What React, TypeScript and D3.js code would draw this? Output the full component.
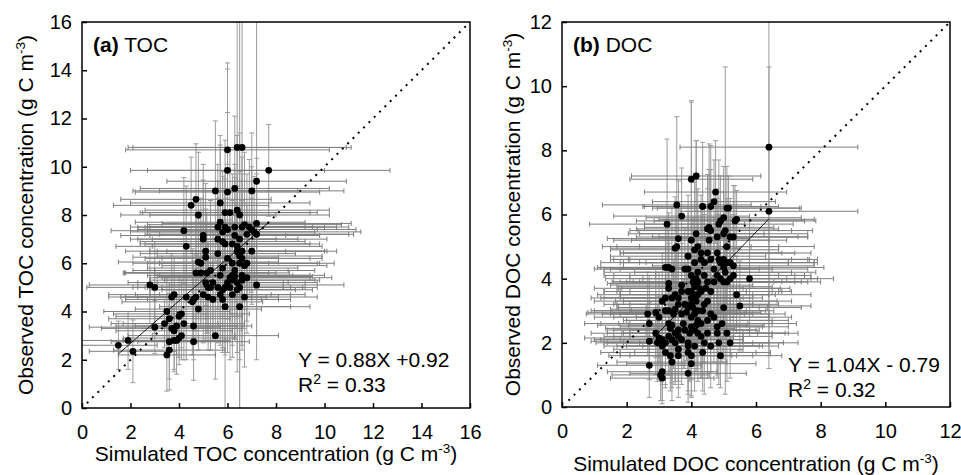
import React, { useRef, useEffect } from "react";
import { select, scaleLinear, axisBottom, axisLeft, line } from "d3";

// [simulated, observed, simulated SD, observed SD]
const tocPoints = [
  [1.5, 2.6, 1.6, 1.0], [1.9, 2.8, 2.0, 1.2], [2.1, 2.35, 1.8, 1.3], [2.8, 5.1, 2.5, 1.6],
  [3.0, 5.0, 2.8, 1.9], [3.0, 3.35, 2.7, 1.1], [3.4, 3.5, 2.2, 1.0], [3.5, 4.0, 2.6, 1.4],
  [3.5, 2.2, 2.0, 1.5], [3.6, 2.4, 2.3, 1.2], [3.6, 2.75, 2.4, 2.0], [3.6, 3.7, 2.5, 1.3],
  [3.7, 3.3, 2.9, 0.9], [3.7, 4.6, 2.6, 1.8], [3.8, 4.7, 2.7, 1.5], [3.8, 3.2, 2.4, 1.6],
  [3.9, 2.8, 2.2, 1.4], [3.9, 3.4, 2.5, 1.2], [4.0, 3.8, 2.6, 1.7], [4.0, 2.9, 2.3, 1.1],
  [4.1, 3.9, 2.8, 1.4], [4.1, 3.0, 2.2, 1.0], [3.8, 2.8, 2.1, 1.3], [4.2, 7.35, 3.0, 2.2],
  [4.3, 6.7, 2.9, 2.5], [4.3, 4.6, 2.7, 2.6], [4.2, 3.5, 2.5, 1.5], [4.5, 8.4, 3.2, 2.0],
  [4.6, 4.5, 2.8, 1.6], [4.55, 4.4, 2.9, 2.2], [4.6, 3.4, 2.4, 1.4], [4.6, 2.75, 2.3, 1.6],
  [4.7, 8.65, 3.1, 2.3], [4.7, 4.6, 2.9, 1.9], [4.7, 5.6, 3.0, 2.4], [4.8, 8.0, 3.2, 2.6],
  [4.8, 6.05, 3.3, 1.8], [4.8, 4.1, 2.6, 1.7], [4.9, 5.6, 3.1, 2.1], [4.9, 6.0, 2.8, 2.7],
  [5.0, 7.15, 3.4, 2.3], [5.0, 7.0, 3.0, 3.1], [5.0, 4.7, 2.8, 2.0], [5.1, 5.2, 3.2, 2.4],
  [5.1, 6.5, 3.3, 2.8], [5.1, 6.25, 3.0, 2.0], [5.15, 5.6, 3.4, 2.5], [5.2, 5.0, 3.1, 1.9],
  [5.2, 4.6, 2.9, 2.2], [5.3, 5.0, 3.0, 2.6], [5.3, 5.7, 3.2, 2.9], [5.4, 4.5, 2.7, 1.7],
  [5.5, 9.0, 3.4, 2.9], [5.5, 3.0, 2.6, 1.8], [5.6, 7.5, 3.6, 2.6], [5.6, 7.0, 3.3, 2.4],
  [5.6, 5.0, 3.0, 2.3], [5.7, 8.5, 3.7, 2.8], [5.7, 7.7, 3.5, 3.2], [5.7, 4.7, 2.9, 2.1],
  [5.8, 7.3, 3.8, 2.5], [5.8, 6.9, 3.4, 2.7], [5.8, 5.8, 3.1, 3.3], [5.8, 4.9, 3.0, 2.4],
  [5.8, 4.5, 2.8, 2.2], [5.9, 8.1, 3.5, 3.0], [5.9, 7.5, 3.6, 2.3], [5.9, 5.0, 3.2, 2.8],
  [5.9, 4.2, 2.7, 4.3], [6.0, 10.7, 4.2, 3.6], [6.0, 9.85, 4.0, 4.2], [6.0, 8.95, 3.8, 3.3],
  [6.0, 7.4, 3.7, 2.7], [6.0, 5.2, 3.2, 2.9], [6.1, 8.1, 3.6, 2.6], [6.1, 5.4, 3.3, 2.4],
  [6.1, 5.0, 3.1, 3.0], [6.2, 5.5, 3.2, 2.5], [6.2, 5.3, 3.4, 2.7], [6.2, 4.7, 3.0, 2.6],
  [6.3, 9.1, 3.9, 3.0], [6.3, 7.5, 3.7, 2.6], [6.3, 7.15, 3.5, 2.4], [6.3, 5.7, 3.3, 2.8],
  [6.3, 5.45, 3.2, 2.6], [6.4, 10.8, 4.5, 5.2], [6.4, 8.2, 3.8, 3.1], [6.4, 6.7, 3.5, 3.0],
  [6.4, 6.5, 3.6, 2.7], [6.4, 5.2, 3.3, 2.9], [6.4, 4.9, 3.1, 3.4], [6.5, 8.0, 3.7, 3.4],
  [6.5, 7.0, 3.6, 2.8], [6.5, 6.3, 3.4, 3.1], [6.5, 6.0, 3.3, 10.5], [6.5, 5.0, 3.2, 3.0],
  [6.5, 4.2, 2.9, 4.2], [6.6, 10.8, 4.5, 5.5], [6.6, 7.5, 3.9, 2.9], [6.6, 6.5, 3.5, 3.2],
  [6.6, 6.2, 3.3, 2.8], [6.6, 5.5, 3.4, 3.1], [6.6, 5.3, 3.2, 2.7], [6.7, 7.6, 4.0, 3.0],
  [6.7, 5.9, 3.4, 2.6], [6.7, 4.6, 3.0, 2.9], [6.8, 7.2, 4.2, 2.5], [6.8, 6.0, 3.6, 2.4],
  [6.9, 7.5, 4.1, 2.8], [7.0, 7.4, 4.3, 2.6], [7.0, 9.0, 3.8, 2.4], [7.0, 6.5, 3.5, 2.2],
  [7.1, 7.3, 4.4, 2.3], [7.2, 7.2, 4.0, 2.5], [7.2, 9.4, 3.7, 7.4], [7.2, 7.65, 3.9, 2.7],
  [7.2, 5.1, 3.6, 2.1], [7.7, 9.85, 5.0, 1.9], [6.2, 6.0, 3.5, 2.6], [5.4, 5.2, 3.1, 2.2],
  [5.7, 5.5, 3.0, 2.5], [6.0, 6.2, 3.4, 2.5], [6.2, 6.8, 3.6, 2.9], [5.6, 6.4, 3.2, 2.3],
  [6.8, 5.4, 3.5, 2.3], [5.9, 6.8, 3.5, 2.7],
];

const docPoints = [
  [6.4, 8.1, 2.75, 6.9], [6.4, 6.1, 2.75, 4.5], [4.0, 7.1, 1.9, 2.4], [4.15, 7.2, 2.0, 1.1],
  [4.75, 6.7, 2.2, 1.6], [4.7, 6.4, 1.9, 1.3], [4.6, 6.25, 2.1, 1.9], [4.35, 6.25, 1.8, 2.0],
  [3.55, 6.3, 2.3, 2.75], [3.7, 5.95, 2.1, 1.5], [3.25, 5.7, 2.4, 2.65], [3.6, 5.25, 2.2, 1.8],
  [3.5, 4.95, 2.0, 1.6], [3.55, 5.0, 2.3, 1.4], [4.0, 5.2, 2.4, 4.35], [4.15, 5.4, 2.1, 2.9],
  [4.5, 5.55, 2.2, 1.7], [4.55, 5.6, 2.0, 2.6], [4.8, 5.3, 2.5, 1.5], [4.85, 5.7, 2.3, 2.0],
  [4.9, 5.8, 2.6, 1.4], [5.0, 5.9, 2.4, 1.6], [5.05, 5.5, 2.7, 5.1], [5.1, 6.2, 2.3, 1.3],
  [5.15, 6.2, 2.2, 1.0], [5.35, 5.8, 2.5, 1.1], [5.4, 5.85, 2.4, 0.9], [5.0, 5.4, 2.6, 1.3],
  [5.1, 5.0, 2.7, 1.5], [5.2, 5.3, 2.4, 1.2], [5.3, 5.3, 2.3, 1.6], [4.8, 4.8, 2.9, 1.7],
  [4.85, 4.6, 2.8, 1.4], [4.9, 4.5, 3.0, 1.9], [5.0, 4.6, 2.9, 1.5], [5.1, 4.5, 2.7, 1.3],
  [5.2, 4.5, 2.6, 1.8], [5.3, 4.4, 2.5, 1.6], [5.05, 4.2, 2.8, 1.4], [5.0, 3.9, 2.6, 2.0],
  [5.1, 3.9, 2.9, 1.7], [5.2, 4.0, 2.7, 1.5], [5.3, 4.1, 2.4, 1.9], [5.4, 3.5, 2.3, 1.2],
  [5.8, 4.0, 2.6, 1.8], [5.5, 3.15, 2.2, 1.4], [5.0, 3.1, 2.4, 1.6], [4.95, 2.6, 2.3, 1.2],
  [5.1, 2.3, 2.2, 1.5], [5.2, 2.0, 2.1, 1.1], [4.85, 2.0, 2.0, 1.3], [4.9, 1.6, 1.9, 1.0],
  [4.8, 2.3, 2.2, 1.4], [3.2, 4.35, 2.0, 1.5], [3.3, 4.35, 2.2, 1.7], [3.3, 3.85, 1.9, 1.4],
  [3.4, 4.3, 2.4, 1.9], [3.7, 3.8, 2.2, 1.6], [3.7, 3.6, 2.0, 1.5], [3.8, 4.3, 2.3, 1.3],
  [3.9, 4.3, 2.6, 1.8], [4.0, 4.1, 2.7, 1.6], [4.05, 3.9, 2.5, 2.0], [4.1, 3.75, 2.4, 1.7],
  [4.15, 4.0, 2.8, 1.5], [4.2, 3.9, 2.6, 1.8], [4.25, 3.7, 2.5, 1.4], [4.1, 3.5, 2.3, 1.9],
  [4.0, 3.4, 2.2, 1.6], [4.2, 3.5, 2.4, 1.7], [4.3, 3.6, 2.5, 1.5], [4.4, 3.2, 2.3, 1.8],
  [4.35, 3.0, 2.2, 1.6], [4.2, 3.0, 2.1, 1.4], [4.1, 2.9, 2.3, 1.7], [4.0, 2.8, 2.4, 1.5],
  [3.9, 3.1, 2.2, 1.9], [3.8, 3.2, 2.1, 1.3], [3.6, 3.2, 2.3, 1.6], [3.5, 3.05, 2.0, 1.4],
  [3.45, 2.9, 2.2, 1.7], [3.3, 3.0, 2.4, 1.5], [3.3, 2.6, 2.1, 1.6], [3.35, 2.45, 2.0, 1.3],
  [3.4, 2.55, 2.3, 1.8], [3.5, 2.3, 2.1, 1.5], [3.6, 2.4, 2.2, 1.2], [3.6, 2.2, 2.0, 1.6],
  [3.7, 2.1, 1.9, 1.4], [3.5, 2.0, 2.1, 1.3], [3.4, 2.1, 2.2, 1.5], [3.3, 2.2, 2.0, 1.2],
  [3.2, 2.0, 1.9, 1.4], [3.1, 2.1, 2.1, 1.1], [3.0, 2.15, 2.3, 1.3], [3.1, 1.9, 1.8, 1.2],
  [3.2, 1.7, 2.0, 1.0], [3.35, 1.6, 1.9, 1.1], [3.4, 1.4, 1.7, 1.2], [3.6, 1.8, 2.0, 1.0],
  [3.6, 1.6, 1.8, 1.3], [3.9, 1.7, 2.1, 1.2], [3.9, 1.9, 2.2, 1.0], [4.0, 1.6, 1.9, 1.3],
  [4.0, 1.35, 2.0, 1.0], [4.1, 1.9, 2.1, 1.4], [4.2, 2.3, 2.3, 1.5], [4.3, 2.2, 2.2, 1.3],
  [4.4, 2.0, 2.0, 1.6], [4.35, 1.7, 2.1, 1.2], [4.5, 2.3, 2.4, 1.4], [4.5, 2.7, 2.5, 1.6],
  [4.6, 2.9, 2.3, 1.8], [4.5, 3.3, 2.6, 1.5], [4.6, 3.6, 2.5, 1.7], [4.7, 3.9, 2.7, 1.6],
  [4.4, 4.1, 2.8, 1.9], [4.4, 4.5, 2.6, 1.7], [4.5, 4.8, 2.7, 2.0], [4.3, 4.8, 2.5, 1.8],
  [4.1, 4.5, 2.9, 1.6], [3.9, 4.7, 2.4, 1.9], [2.65, 2.9, 1.9, 1.3], [2.7, 2.6, 2.0, 1.5],
  [2.7, 2.05, 1.8, 1.2], [2.7, 1.3, 1.6, 1.0], [2.9, 2.95, 2.1, 1.4], [3.05, 1.0, 1.5, 0.8],
  [3.1, 1.1, 1.7, 1.0], [3.1, 0.9, 1.6, 0.7], [3.9, 1.05, 1.8, 0.9], [3.9, 2.0, 2.0, 1.6],
  [4.6, 1.9, 2.1, 1.3], [4.8, 2.5, 2.2, 1.5], [4.7, 2.8, 2.4, 1.4], [4.3, 2.6, 2.2, 1.7],
  [4.2, 2.7, 2.3, 1.5], [4.15, 2.55, 2.1, 1.4], [4.0, 2.5, 2.2, 1.6], [4.1, 2.4, 2.0, 1.3],
  [3.95, 2.3, 2.1, 1.5], [3.8, 2.4, 2.2, 1.2], [3.75, 2.6, 2.0, 1.4], [3.2, 3.4, 2.3, 1.6],
  [3.1, 3.3, 2.1, 1.5], [3.2, 3.0, 2.2, 1.3], [3.0, 2.8, 2.0, 1.4], [3.5, 3.5, 2.4, 1.7],
  [3.6, 3.4, 2.3, 1.5], [3.9, 3.6, 2.6, 1.8], [4.0, 3.6, 2.7, 1.6], [4.2, 4.2, 2.9, 1.9],
  [4.3, 4.6, 2.8, 1.7], [4.6, 4.6, 3.0, 1.8], [4.7, 4.3, 2.9, 1.6], [4.8, 4.1, 2.7, 1.9],
  [4.9, 4.0, 2.8, 1.7], [5.0, 4.35, 3.1, 1.8], [4.55, 5.2, 2.4, 2.2], [4.6, 5.5, 2.5, 1.9],
  [4.1, 4.9, 2.6, 2.1], [4.2, 5.0, 2.5, 1.8], [3.4, 3.4, 2.2, 1.6], [3.3, 3.7, 2.3, 1.4],
  [2.9, 2.3, 2.0, 1.3], [2.95, 2.0, 1.9, 1.2], [4.45, 3.7, 2.6, 1.7], [4.5, 3.9, 2.7, 1.5],
  [4.0, 3.2, 2.4, 1.6], [4.05, 3.1, 2.3, 1.8], [4.15, 3.3, 2.5, 1.4], [3.7, 2.9, 2.2, 1.6],
  [3.85, 2.95, 2.3, 1.5],
];

const tocTicks = [0, 2, 4, 6, 8, 10, 12, 14, 16];
const docTicks = [0, 2, 4, 6, 8, 10, 12];

// slope, intercept; fitted range on the simulated axis
const tocFit = [0.88, 0.92];
const tocFitRange = [1.5, 7.7];
const docFit = [1.04, -0.79];
const docFitRange = [2.7, 6.4];

const FONT = "'Liberation Sans', Arial, sans-serif";

function Panel({ id, points, ticks, fit, fitRange, left, width, top, height, letter, name, eq, r2, xTitleY, yTitleX, eqX, eqY }) {
  const axRef = useRef(null);
  const maxV = ticks[ticks.length - 1];
  const x = scaleLinear().domain([0, maxV]).range([left, left + width]);
  const y = scaleLinear().domain([0, maxV]).range([top + height, top]);

  useEffect(() => {
    const g = select(axRef.current);
    g.select(".xaxis")
      .attr("transform", `translate(0,${top + height})`)
      .call(axisBottom(x).tickValues(ticks).tickSize(-5).tickPadding(17).tickFormat((d) => String(d)));
    g.select(".yaxis")
      .attr("transform", `translate(${left},0)`)
      .call(axisLeft(y).tickValues(ticks).tickSize(-5).tickPadding(10).tickFormat((d) => String(d)));
    g.selectAll(".domain").remove();
    g.selectAll(".tick line").attr("stroke", "#000").attr("stroke-width", 1.5);
    g.selectAll("text").attr("font-size", 20).attr("font-family", FONT).attr("fill", "#000");
  }, [points]);

  const fitLine = line()
    .x((d) => x(d))
    .y((d) => y(fit[0] * d + fit[1]));

  const cap = 2.5;

  return (
    <g>
      <defs>
        <clipPath id={"clip-" + id}>
          <rect x={left} y={top} width={width} height={height} />
        </clipPath>
      </defs>
      <g clipPath={`url(#clip-${id})`}>
        <g stroke="#9c9c9c" strokeWidth={1}>
          {points.map((p, i) => (
            <g key={"v" + i}>
              <line x1={x(p[0])} x2={x(p[0])} y1={y(p[1] - p[3])} y2={y(p[1] + p[3])} />
              <line x1={x(p[0]) - cap} x2={x(p[0]) + cap} y1={y(p[1] - p[3])} y2={y(p[1] - p[3])} />
              <line x1={x(p[0]) - cap} x2={x(p[0]) + cap} y1={y(p[1] + p[3])} y2={y(p[1] + p[3])} />
            </g>
          ))}
        </g>
        <g stroke="#7e7e7e" strokeWidth={1}>
          {points.map((p, i) => (
            <g key={"h" + i}>
              <line x1={x(p[0] - p[2])} x2={x(p[0] + p[2])} y1={y(p[1])} y2={y(p[1])} />
              <line x1={x(p[0] - p[2])} x2={x(p[0] - p[2])} y1={y(p[1]) - cap} y2={y(p[1]) + cap} />
              <line x1={x(p[0] + p[2])} x2={x(p[0] + p[2])} y1={y(p[1]) - cap} y2={y(p[1]) + cap} />
            </g>
          ))}
        </g>
        <line x1={x(0.2)} y1={y(0.2)} x2={x(maxV)} y2={y(maxV)} stroke="#000" strokeWidth={2} strokeDasharray="2 5.5" />
        {points.map((p, i) => (
          <circle key={"c" + i} cx={x(p[0])} cy={y(p[1])} r={3.4} fill="#000" />
        ))}
        <path d={fitLine(fitRange)} stroke="#000" strokeWidth={0.9} fill="none" />
      </g>
      <rect x={left} y={top} width={width} height={height} fill="none" stroke="#000" strokeWidth={1.5} />
      <g ref={axRef}>
        <g className="xaxis" />
        <g className="yaxis" />
      </g>
      <g fontFamily={FONT} fill="#000">
        <text x={left + 11} y={top + 30} fontSize={21}>
          <tspan fontWeight="bold">{letter}</tspan> {name}
        </text>
        <text x={eqX} y={eqY} fontSize={21}>{eq}</text>
        <text x={eqX} y={eqY + 25} fontSize={21}>
          R<tspan dy={-8} fontSize={14}>2</tspan><tspan dy={8}> = {r2}</tspan>
        </text>
        <text x={left + width / 2} y={xTitleY} fontSize={21} textAnchor="middle">
          Simulated {name} concentration (g C m<tspan dy={-8} fontSize={13.5}>-3</tspan><tspan dy={8}>)</tspan>
        </text>
        <text transform={`translate(${yTitleX},${top + height / 2}) rotate(-90)`} fontSize={21} textAnchor="middle">
          Observed {name} concentration (g C m<tspan dy={-8} fontSize={13.5}>-3</tspan><tspan dy={8}>)</tspan>
        </text>
      </g>
    </g>
  );
}

export default function App() {
  return (
    <svg width={961} height={475} style={{ position: "absolute", left: 0, top: 0, background: "#fff" }}>
      <Panel id="toc" points={tocPoints} ticks={tocTicks} fit={tocFit} fitRange={tocFitRange}
        left={82} width={388} top={22} height={386} letter="(a)" name="TOC"
        eq="Y = 0.88X +0.92" r2="0.33" xTitleY={461} yTitleX={33} eqX={298} eqY={367} />
      <Panel id="doc" points={docPoints} ticks={docTicks} fit={docFit} fitRange={docFitRange}
        left={562} width={388} top={22} height={385} letter="(b)" name="DOC"
        eq="Y = 1.04X - 0.79" r2="0.32" xTitleY={471} yTitleX={520} eqX={788} eqY={372} />
    </svg>
  );
}
